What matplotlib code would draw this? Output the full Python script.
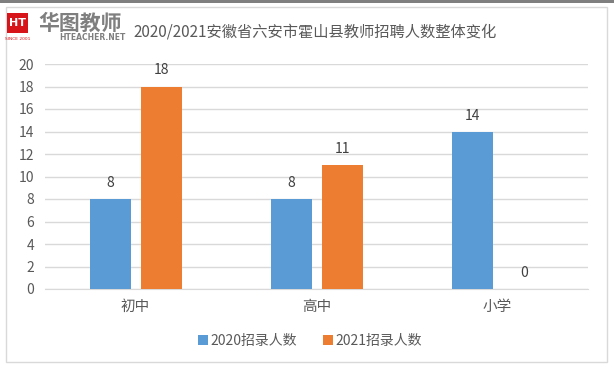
import matplotlib.pyplot as plt
import numpy as np
from matplotlib.patches import Rectangle

plt.rcParams['font.family'] = ['Noto Sans CJK SC', 'DejaVu Sans']

categories = ['初中', '高中', '小学']
recruit_2020 = [8, 8, 14]
recruit_2021 = [18, 11, 0]
series_names = ['2020招录人数', '2021招录人数']
title = '2020/2021安徽省六安市霍山县教师招聘人数整体变化'

W, H = 614, 373
fig = plt.figure(figsize=(W / 100, H / 100), dpi=100)

# outer frame and top strip
fig.patches.append(Rectangle((0, 1 - 3 / H), 1, 3 / H, transform=fig.transFigure,
                             facecolor='#7f7f7f', edgecolor='none'))
fig.patches.append(Rectangle((6 / W, 1 - 362 / H), 601 / W, 355 / H, transform=fig.transFigure,
                             facecolor='none', edgecolor='#d9d9d9', linewidth=1))

ax = fig.add_axes([45 / W, 1 - 289 / H, 543 / W, 225 / H])
x = np.arange(len(categories))
bw = 0.226
ax.bar(x - 0.14, recruit_2020, bw, color='#5b9bd5', label=series_names[0], zorder=3)
ax.bar(x + 0.145, recruit_2021, bw, color='#ed7d31', label=series_names[1], zorder=3)

for xi, v in zip(x - 0.14, recruit_2020):
    ax.text(xi, v + 0.8, str(v), ha='center', va='bottom', fontsize=10, color='#404040')
for xi, v in zip(x + 0.145, recruit_2021):
    ax.text(xi, v + 0.8, str(v), ha='center', va='bottom', fontsize=10, color='#404040')

ax.set_xlim(-0.5, 2.5)
ax.set_ylim(0, 20)
ax.set_yticks(range(0, 21, 2))
ax.set_xticks(x)
ax.set_xticklabels(categories, fontsize=10.5, color='#595959')
ax.tick_params(axis='y', labelsize=10, labelcolor='#595959', length=0, pad=8)
ax.tick_params(axis='x', length=0, pad=8)
ax.grid(axis='y', color='#d9d9d9', linewidth=1, zorder=0)
for s in ['top', 'right', 'left']:
    ax.spines[s].set_visible(False)
ax.spines['bottom'].set_color('#d9d9d9')

ax.legend(loc='center', bbox_to_anchor=(0.505, 1 - 341 / H), bbox_transform=fig.transFigure,
          ncol=2, frameon=False, fontsize=10, handlelength=0.7, handleheight=0.7,
          handletextpad=0.2, columnspacing=1.9, labelcolor='#595959')

# title
fig.text(133 / W, 1 - 32 / H, title, ha='left', va='center', fontsize=11, color='#595959')

# logo
fig.patches.append(Rectangle((7 / W, 1 - 33 / H), 21 / W, 20 / H, transform=fig.transFigure,
                             facecolor='#d7141a', edgecolor='none'))
fig.text(17.5 / W, 1 - 23 / H, 'HT', ha='center', va='center', fontsize=8, color='white',
         fontweight='bold', family='DejaVu Sans')
fig.text(17.5 / W, 1 - 38.5 / H, 'SINCE 2001', ha='center', va='center', fontsize=3.2,
         color='#d7141a', family='DejaVu Sans')
fig.text(80 / W, 1 - 23 / H, '华图教师', ha='center', va='center', fontsize=15, color='#7f7f7f',
         fontweight='bold')
fig.text(92 / W, 1 - 37.5 / H, 'HTEACHER.NET', ha='center', va='center', fontsize=5.5,
         color='#7f7f7f', fontweight='bold', family='DejaVu Sans')

fig.savefig('out.png', dpi=100)
